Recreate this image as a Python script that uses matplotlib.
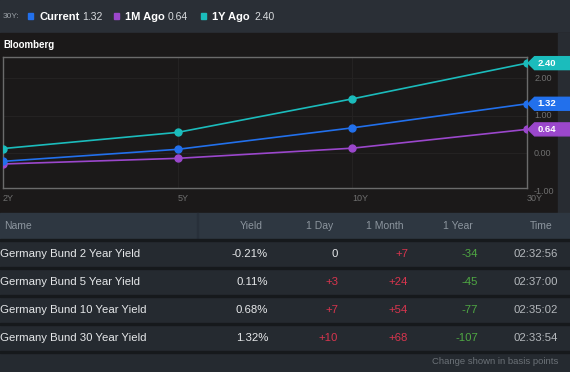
import numpy as np
import matplotlib
matplotlib.use('Agg')
from matplotlib import pyplot as plt
from matplotlib.patches import Rectangle, Polygon
from matplotlib.transforms import blended_transform_factory

plt.rcParams['font.family'] = ['Liberation Sans', 'DejaVu Sans']

# chart data (yield curve, %)
tenors = ['2Y', '5Y', '10Y', '30Y']
current = [-0.21, 0.11, 0.68, 1.32]
month_ago = [-0.28, -0.13, 0.14, 0.64]
year_ago = [0.13, 0.56, 1.45, 2.40]
yticks = [-1.0, 0.0, 1.0, 2.0]

# table data
names = ['Germany Bund 2 Year Yield', 'Germany Bund 5 Year Yield',
         'Germany Bund 10 Year Yield', 'Germany Bund 30 Year Yield']
yields = ['-0.21%', '0.11%', '0.68%', '1.32%']
day_chg = ['0', '+3', '+7', '+10']
month_chg = ['+7', '+24', '+54', '+68']
year_chg = ['-34', '-45', '-77', '-107']
times = ['02:32:56', '02:37:00', '02:35:02', '02:33:54']
headers = ['Yield', '1 Day', '1 Month', '1 Year', 'Time']

c_cur = '#2270ec'
c_mon = '#9b47cc'
c_yr = '#1bbcbc'
c_up = '#d8354e'
c_dn = '#4fa843'

W, H = 570, 372
fig = plt.figure(figsize=(W / 100, H / 100), dpi=100)
fig.patch.set_facecolor('#252a30')


def fx(x):
    return x / W


def fy(y):
    return 1 - y / H


def rect(x0, y0, x1, y1, color):
    fig.patches.append(Rectangle((fx(x0), fy(y1)), (x1 - x0) / W, (y1 - y0) / H,
                                 transform=fig.transFigure, color=color, zorder=-2))


# background blocks
rect(0, 0, W, 33, '#2a2f36')
rect(0, 33, W, 213, '#1b1919')
rect(558, 33, W, 213, '#282c32')
rect(0, 213, W, 239, '#2e3741')
rect(197, 213, 198, 239, '#28303a')
for i in range(5):
    rect(0, 239 + 28 * i, W, 241 + 28 * i, '#16191c')

# top legend
fig.text(fx(3), fy(17), '30Y:', color='#9aa0a6', fontsize=6, va='center')
legend = [(c_cur, 'Current', current[-1], 28, 39, 82),
          (c_mon, '1M Ago', month_ago[-1], 114, 125, 168),
          (c_yr, '1Y Ago', year_ago[-1], 201, 212, 254)]
for col, lab, val, xs, xl, xv in legend:
    rect(xs, 13, xs + 5, 19, col)
    fig.text(fx(xl), fy(17), lab, color='white', fontsize=8, fontweight='bold', va='center')
    fig.text(fx(xv), fy(17.5), f'{val:.2f}', color='#d8dbde', fontsize=7.5, va='center')

fig.text(fx(3), fy(45), 'Bloomberg', color='white', fontsize=7, fontweight='bold', va='center')

# chart
ax = fig.add_axes([fx(3), fy(188), 524 / W, 131 / H])
ax.set_zorder(2)
ax.set_facecolor('#1b1919')
x = np.arange(len(tenors))
for v in yticks:
    ax.axhline(v, color='#252323', lw=0.7, zorder=0)
for xi in x[1:-1]:
    ax.axvline(xi, color='#252323', lw=0.7, zorder=0)

for vals, col in [(month_ago, c_mon), (current, c_cur), (year_ago, c_yr)]:
    ax.plot(x, vals, color=col, lw=1.2, marker='o', ms=5, zorder=3, clip_on=True)

ax.set_xlim(0, 3)
ax.set_ylim(-0.918, 2.563)
ax.set_xticks(x, tenors)
ax.set_yticks([])
ax.tick_params(axis='x', length=0, pad=4, labelsize=6.5, colors='#6f6f6f')
for lbl in ax.get_xticklabels():
    lbl.set_horizontalalignment('left')
for sp in ax.spines.values():
    sp.set_color('#6b6b6b')
    sp.set_linewidth(1)

tr = blended_transform_factory(ax.transAxes, ax.transData)
for v in yticks:
    ax.text(1.0135, v, f'{v:.2f}', transform=tr, va='center', ha='left',
            color='#6f6f6f', fontsize=6.5, clip_on=False)

# value tags at right
hh = 0.172
for vals, col in [(year_ago, c_yr), (current, c_cur), (month_ago, c_mon)]:
    v = vals[-1]
    poly = Polygon([(1.002, v), (1.0145, v + hh), (1.09, v + hh), (1.09, v - hh), (1.0145, v - hh)],
                   closed=True, transform=tr, color=col, clip_on=False, zorder=5)
    ax.add_patch(poly)
    ax.text(1.0195, v, f'{v:.2f}', transform=tr, va='center', ha='left', color='white',
            fontsize=6.8, fontweight='bold', clip_on=False, zorder=6)

# table
hdr_col = '#8c959e'
fig.text(fx(4), fy(226), 'Name', color=hdr_col, fontsize=7.5, va='center')
for h, xr in zip(headers, [263, 333, 403, 473, 553]):
    fig.text(fx(xr), fy(226), h, color=hdr_col, fontsize=7.5, va='center', ha='right')


def chg_color(s):
    if s.startswith('+'):
        return c_up
    if s.startswith('-'):
        return c_dn
    return '#e6e8ea'


for i in range(len(names)):
    yc = 254 + 28 * i
    fig.text(fx(0), fy(yc), names[i], color='#e6e8ea', fontsize=8.2, va='center')
    fig.text(fx(268), fy(yc), yields[i], color='#e6e8ea', fontsize=8.2, va='center', ha='right')
    for s, xr in zip([day_chg[i], month_chg[i], year_chg[i]], [338, 408, 478]):
        fig.text(fx(xr), fy(yc), s, color=chg_color(s), fontsize=8.2, va='center', ha='right')
    fig.text(fx(558), fy(yc), times[i], color='#b4b8bc', fontsize=8.2, va='center', ha='right')

fig.text(fx(558), fy(361), 'Change shown in basis points', color='#6b7177', fontsize=6.8,
         va='center', ha='right')

fig.savefig('out.png', dpi=100, facecolor=fig.get_facecolor())
